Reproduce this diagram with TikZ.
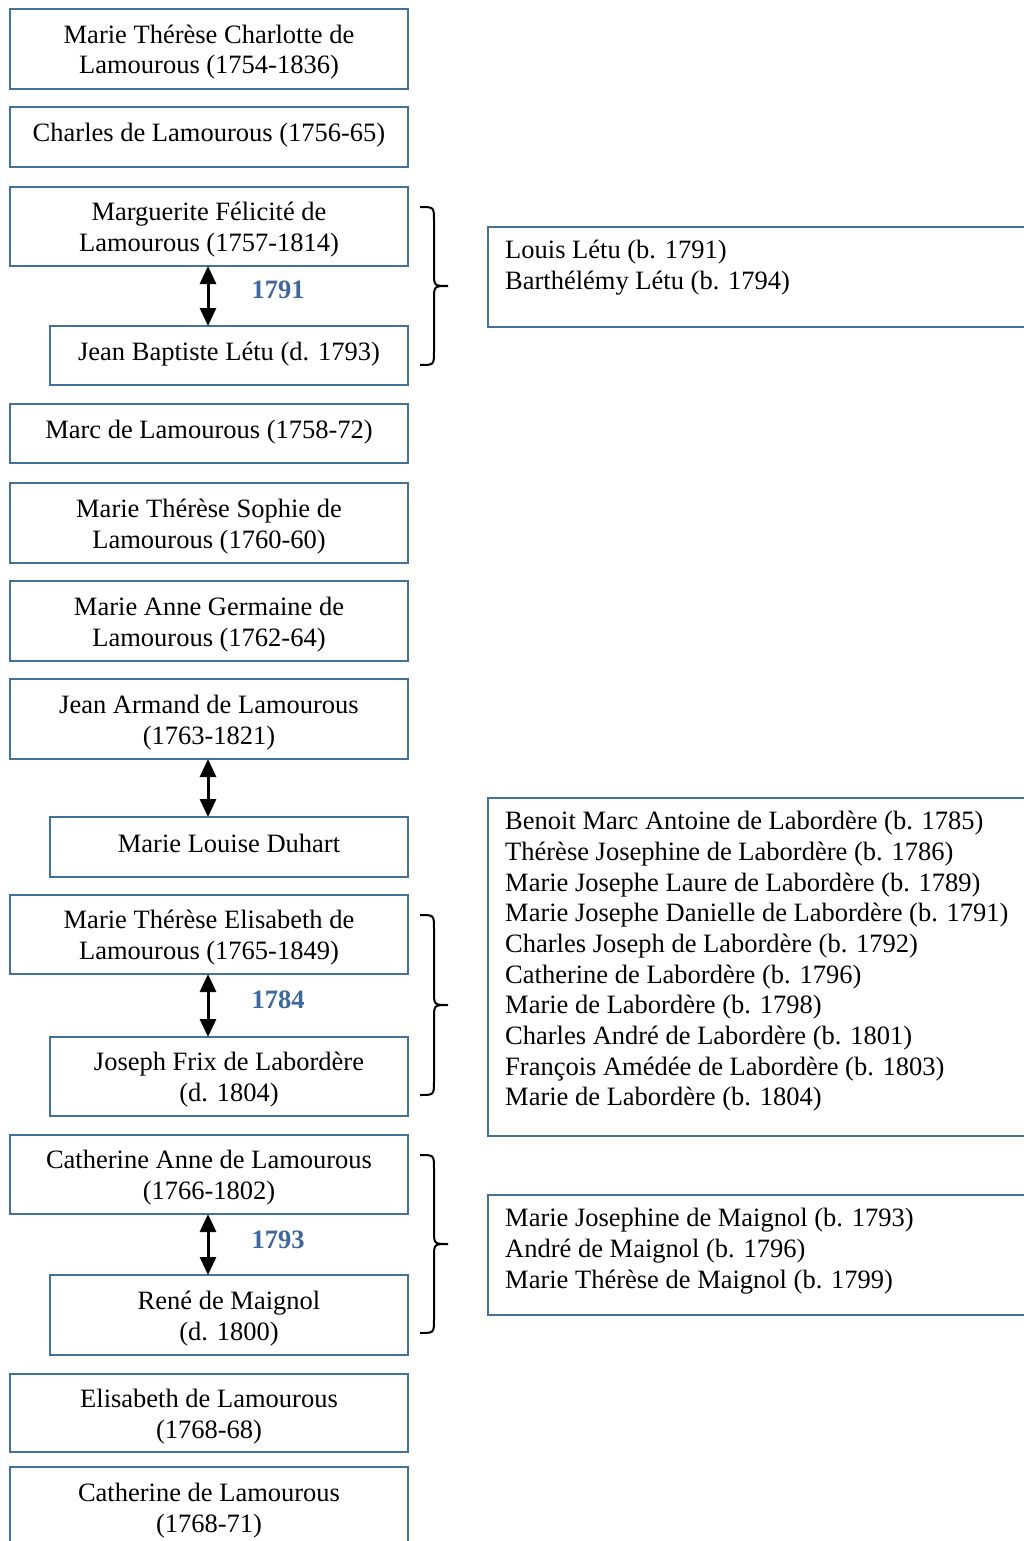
\documentclass[tikz,border=0pt]{standalone}
\usepackage{fontspec}
\setmainfont{Liberation Serif}
\usetikzlibrary{arrows.meta}
\definecolor{bordercol}{HTML}{41719C}
\definecolor{yearcol}{HTML}{3E679B}
\newcommand{\txtsize}{\fontsize{26.5pt}{30.7pt}\selectfont}
\tikzset{
  lbox/.style={draw=bordercol, line width=2pt, minimum width=398pt, align=center, inner sep=0pt, font=\txtsize},
  ibox/.style={lbox, minimum width=358pt},
  one/.style={text height=16pt, text depth=6pt},
  two/.style={text height=56pt, text depth=6pt},
  rbox/.style={draw=bordercol, line width=2pt, minimum width=560pt, anchor=north west, inner sep=0pt},
  rtext/.style={anchor=north west, align=left, inner sep=0pt, font=\txtsize},
  year/.style={font=\txtsize\bfseries, text=yearcol, inner sep=0pt},
  marriage/.style={line width=3pt, {Triangle[length=18pt,width=16pt]}-{Triangle[length=18pt,width=16pt]}, shorten <=-1pt, shorten >=-1pt},
  bracestyle/.style={line width=2pt, black}
}
\newcommand{\famrbrace}[3]{%
  \draw[bracestyle] (#1,#2) .. controls (#1+14,#2) .. (#1+14,#2+14)
    -- (#1+14,{(#2+#3)/2-14}) .. controls (#1+14,{(#2+#3)/2}) .. (#1+28,{(#2+#3)/2})
    .. controls (#1+14,{(#2+#3)/2}) .. (#1+14,{(#2+#3)/2+14})
    -- (#1+14,#3-14) .. controls (#1+14,#3) .. (#1,#3);}
\begin{document}
\begin{tikzpicture}[x=1pt,y=-1pt]
\path[use as bounding box] (0,0) rectangle (1024,1541);
\clip (0,0) rectangle (1024,1541);
\fill[white] (0,0) rectangle (1024,1541);

\node[lbox, two, minimum height=80pt] (b1) at (209,49) {Marie Thérèse Charlotte de\\Lamourous (1754-1836)};
\node[lbox, one, minimum height=60pt] (b2) at (209,137) {Charles de Lamourous (1756-65)};
\node[lbox, two, minimum height=79pt] (b3) at (209,226.5) {Marguerite Félicité de\\Lamourous (1757-1814)};
\node[ibox, one, minimum height=59pt] (b4) at (229,355.5) {Jean Baptiste Létu (d. 1793)};
\node[lbox, one, minimum height=59pt] (b5) at (209,433.5) {Marc de Lamourous (1758-72)};
\node[lbox, two, minimum height=80pt] (b6) at (209,523) {Marie Thérèse Sophie de\\Lamourous (1760-60)};
\node[lbox, two, minimum height=80pt] (b7) at (209,621) {Marie Anne Germaine de\\Lamourous (1762-64)};
\node[lbox, two, minimum height=80pt] (b8) at (209,719) {Jean Armand de Lamourous\\(1763-1821)};
\node[ibox, one, minimum height=60pt] (b9) at (229,847) {Marie Louise Duhart};
\node[lbox, two, minimum height=79pt] (b10) at (209,934.5) {Marie Thérèse Elisabeth de\\Lamourous (1765-1849)};
\node[ibox, two, minimum height=79pt] (b11) at (229,1076.5) {Joseph Frix de Labordère\\(d. 1804)};
\node[lbox, two, minimum height=79pt] (b12) at (209,1174.5) {Catherine Anne de Lamourous\\(1766-1802)};
\node[ibox, two, minimum height=80pt] (b13) at (229,1315) {René de Maignol\\(d. 1800)};
\node[lbox, two, minimum height=78pt] (b14) at (209,1413) {Elisabeth de Lamourous\\(1768-68)};
\node[lbox, two, minimum height=80pt] (b15) at (209,1507) {Catherine de Lamourous\\(1768-71)};

% marriages
\draw[marriage] ([xshift=-1pt]b3.south) -- ([xshift=-1pt]b3.south |- b4.north);
\node[year] (y1) at (278,290) {1791};
\draw[marriage] ([xshift=-1pt]b8.south) -- ([xshift=-1pt]b8.south |- b9.north);
\draw[marriage] ([xshift=-1pt]b10.south) -- ([xshift=-1pt]b10.south |- b11.north);
\node[year] (y2) at (278,1000) {1784};
\draw[marriage] ([xshift=-1pt]b12.south) -- ([xshift=-1pt]b12.south |- b13.north);
\node[year] (y3) at (278,1240) {1793};

% braces
\famrbrace{420}{207}{365}
\famrbrace{420}{915}{1095}
\famrbrace{420}{1155}{1333}

% children boxes
\node[rbox, minimum height=100pt] (r1) at (487,226) {};
\node[rtext] (r1t) at ([xshift=18pt,yshift=-14pt]r1.north west) {Louis Létu (b. 1791)\\Barthélémy Létu (b. 1794)};
\node[rbox, minimum height=338pt] (r2) at (487,797) {};
\node[rtext] (r2t) at ([xshift=18pt,yshift=-14pt]r2.north west) {Benoit Marc Antoine de Labordère (b. 1785)\\Thérèse Josephine de Labordère (b. 1786)\\Marie Josephe Laure de Labordère (b. 1789)\\Marie Josephe Danielle de Labordère (b. 1791)\\Charles Joseph de Labordère (b. 1792)\\Catherine de Labordère (b. 1796)\\Marie de Labordère (b. 1798)\\Charles André de Labordère (b. 1801)\\François Amédée de Labordère (b. 1803)\\Marie de Labordère (b. 1804)};
\node[rbox, minimum height=120pt] (r3) at (487,1194) {};
\node[rtext] (r3t) at ([xshift=18pt,yshift=-14pt]r3.north west) {Marie Josephine de Maignol (b. 1793)\\André de Maignol (b. 1796)\\Marie Thérèse de Maignol (b. 1799)};
\end{tikzpicture}
\end{document}
